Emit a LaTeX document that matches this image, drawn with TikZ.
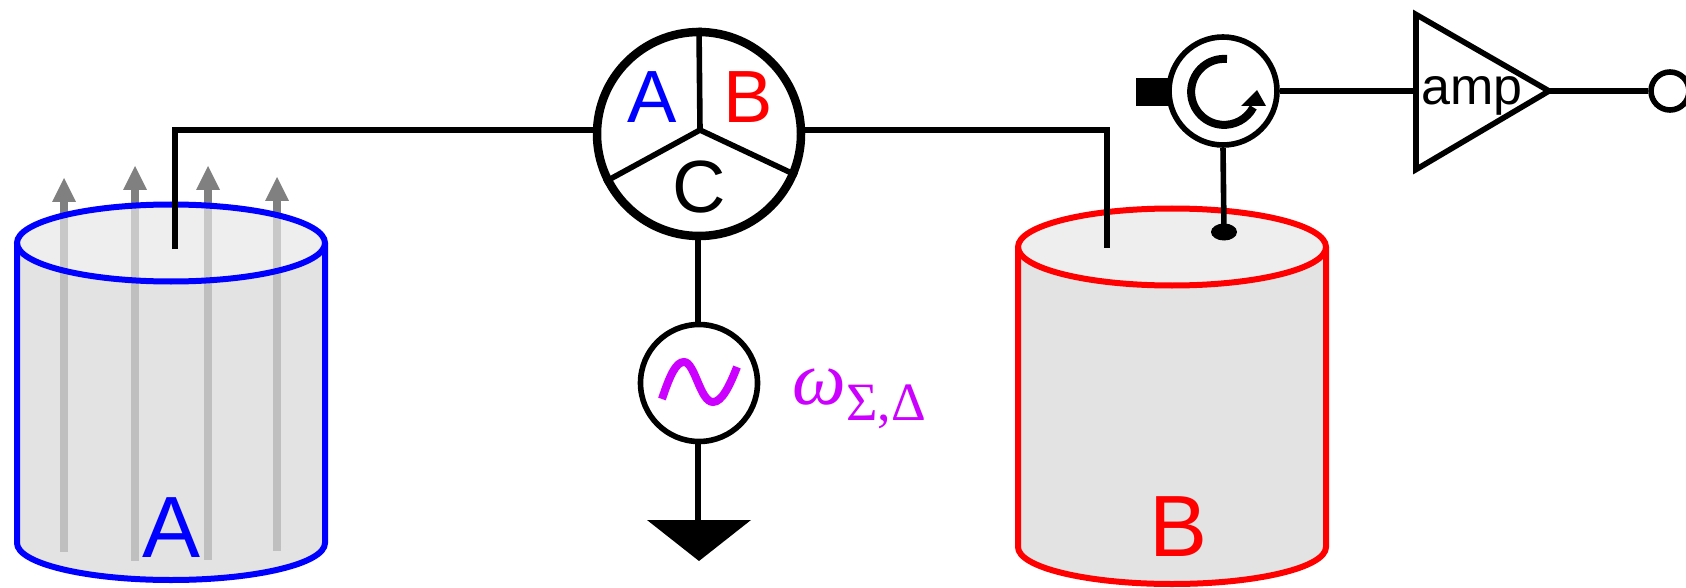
\documentclass[tikz,border=0pt]{standalone}
\usepackage{fontspec}
\usetikzlibrary{shapes.geometric}
\setmainfont{Liberation Sans}
\newfontfamily\omegafont{Liberation Serif}
\definecolor{mag}{HTML}{CC00FF}
\definecolor{cylbody}{HTML}{E3E3E3}
\definecolor{cyltop}{HTML}{EEEEEE}
\definecolor{shaftlow}{HTML}{BFBFBF}
\definecolor{shafttop}{HTML}{C8C8C8}
\definecolor{shafthi}{HTML}{808080}
\tikzset{
  wire/.style={line width=5.6pt,black},
  rim/.style={line width=6pt},
  ringnode/.style={circle,draw=black,fill=white,inner sep=0pt,line width=5.6pt},
  bigletter/.style={anchor=base,inner sep=0pt,font=\fontsize{87}{87}\selectfont},
  midletter/.style={anchor=base,inner sep=0pt,font=\fontsize{74}{74}\selectfont},
}
\newcommand{\cylinder}[3]{% cx, top cy, bottom cy
  \fill[cylbody] (#1-154,-#2) -- (#1-154,-#3) arc[start angle=180,end angle=360,x radius=154,y radius=37] -- (#1+154,-#2) -- cycle;
}
\newcommand{\ghead}[3]{% x, base y, tip y
  \fill[shafthi] (#1-4,-245) rectangle (#1+4,-#3-24);
  \fill[shafthi] (#1-12,-#3-24) -- (#1,-#3) -- (#1+12,-#3-24) -- cycle;
}
\begin{document}
\begin{tikzpicture}[x=1pt,y=1pt]
\useasboundingbox (0,0) rectangle (1686,-588);
% left cylinder
\foreach \ax/\ab/\at in {64/552/178,135/561/166,208/560/166,277/551/177}{\ghead{\ax}{\ab}{\at}}
\cylinder{171}{243}{543}
\foreach \ax/\ab/\at in {64/552/178,135/561/166,208/560/166,277/551/177}{\fill[shaftlow] (\ax-4,-\ab) rectangle (\ax+4,-243);}
\fill[cyltop] (171,-243) ellipse[x radius=154,y radius=38.5];
\begin{scope}
\clip (171,-243) ellipse[x radius=154,y radius=38.5];
\foreach \ax in {64,135,208,277}{\fill[shafttop] (\ax-4,-300) rectangle (\ax+4,-200);}
\end{scope}
\draw[blue,rim] (171,-243) ellipse[x radius=154,y radius=38.5];
\draw[blue,rim] (17,-243) -- (17,-543) arc[start angle=180,end angle=360,x radius=154,y radius=37] -- (325,-243);
\node[bigletter,text=blue] (bigA) at (172,-557) {A};
% right cylinder
\cylinder{1172}{247}{547}
\fill[cyltop] (1172,-247) ellipse[x radius=154,y radius=38.5];
\draw[red,rim] (1172,-247) ellipse[x radius=154,y radius=38.5];
\draw[red,rim] (1018,-247) -- (1018,-547) arc[start angle=180,end angle=360,x radius=154,y radius=37] -- (1326,-247);
\node[bigletter,text=red] (bigB) at (1178,-556) {B};
% nodes
\node[ringnode,line width=8.5pt,minimum size=204pt] (hybrid) at (699,-134) {};
\node[ringnode,minimum size=117pt] (source) at (699,-383) {};
\node[fill=black,inner sep=0pt,minimum width=36pt,minimum height=28pt] (load) at (1154,-92) {};
\node[ringnode,minimum size=108pt] (circ) at (1223,-91) {};
\node[ringnode,minimum size=38pt] (out) at (1670,-91) {};
\coordinate (hub) at (700,-130);
\coordinate (endA) at (175,-249);
\coordinate (endB) at (1107,-248);
\coordinate (gnd) at (698,-520);
\coordinate (ampL) at (1416,-91);
\coordinate (ampT) at (1549,-91);
\node[ellipse,fill=black,inner sep=0pt,minimum width=26pt,minimum height=17pt] (dot) at (1224,-232) {};
% spokes
\draw[wire] (hub) -- (hybrid.90.5);
\draw[wire] (hub) -- (hybrid.207.3);
\draw[wire] (hub) -- (hybrid.-23.3);
\node[midletter,text=blue] (lA) at (652,-123) {A};
\node[midletter,text=red] (lB) at (748,-123) {B};
\node[midletter,text=black] (lC) at (699,-212) {C};
% wires
\draw[wire,line join=miter] (endA) |- (hybrid.178.4);
\draw[wire,line join=miter] (hybrid.2.2) -| (endB);
\draw[wire] (hybrid.south -| gnd) -- (source.north -| gnd);
\draw[wire] (source.south -| gnd) -- (gnd);
\draw[wire] (circ.south) -- (dot.center);
\draw[wire] (circ.east) -- (ampL);
\draw[wire] (ampT) -- (out.west);
% ground
\fill[black] (647,-520) -- (751,-520) -- (699,-561) -- cycle;
% sine
\draw[mag,line width=8pt] (662,-399) .. controls (670,-375) and (676,-362) .. (684,-362) .. controls (695,-362) and (700,-402) .. (713,-402) .. controls (722,-402) and (730,-385) .. (737,-367);
\node[anchor=base west,inner sep=0pt,text=mag,font=\omegafont\itshape\fontsize{76}{76}\selectfont] (omega) at (792,-404) {ω};
\node[anchor=base west,inner sep=0pt,text=mag,font=\omegafont\fontsize{54}{54}\selectfont] (omegasub) at (846,-420) {Σ,Δ};
% circulator arrow
\draw[black,line width=8pt] (1227,-59) arc[start angle=85,end angle=332,x radius=33,y radius=33];
\fill[black] (1241,-106) -- (1257,-90) -- (1266,-106) -- cycle;
% amp
\draw[black,line width=5.6pt,miter limit=10] (1416,-14.5) -- (ampT) -- (1416,-169.5) -- cycle;
\node[anchor=base,inner sep=0pt,font=\fontsize{52}{52}\selectfont] (amp) at (1472,-105) {amp};
\end{tikzpicture}
\end{document}
